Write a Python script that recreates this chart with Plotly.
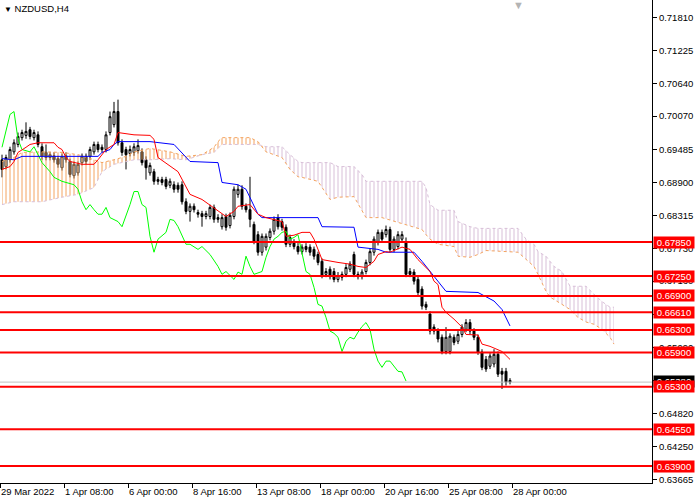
import numpy as np
import plotly.graph_objects as go

# NZDUSD H4, 29 Mar - 28 Apr 2022, one entry per H4 bar
opens = [0.6930, 0.6918, 0.6930, 0.6944, 0.6957, 0.6969, 0.6973, 0.6983, 0.6969, 0.6974,
         0.6953, 0.6943, 0.6934, 0.6937, 0.6932, 0.6916, 0.6937, 0.6927, 0.6902, 0.6907,
         0.6925, 0.6936, 0.6936, 0.6944, 0.6957, 0.6952, 0.6948, 0.6978, 0.6992, 0.7015,
         0.6960, 0.6948, 0.6941, 0.6943, 0.6946, 0.6944, 0.6930, 0.6907, 0.6909, 0.6895,
         0.6895, 0.6895, 0.6885, 0.6886, 0.6885, 0.6886, 0.6856, 0.6839, 0.6848, 0.6837,
         0.6835, 0.6830, 0.6830, 0.6846, 0.6828, 0.6812, 0.6830, 0.6814, 0.6830, 0.6869,
         0.6878, 0.6848, 0.6842, 0.6816, 0.6798, 0.6767, 0.6776, 0.6793, 0.6804, 0.6828,
         0.6821, 0.6811, 0.6781, 0.6784, 0.6777, 0.6768, 0.6777, 0.6776, 0.6772, 0.6763,
         0.6751, 0.6728, 0.6737, 0.6733, 0.6719, 0.6728, 0.6728, 0.6737, 0.6763, 0.6728,
         0.6724, 0.6733, 0.6749, 0.6767, 0.6784, 0.6802, 0.6798, 0.6807, 0.6772, 0.6777,
         0.6790, 0.6784, 0.6733, 0.6732, 0.6719, 0.6702, 0.6675, 0.6658, 0.6635, 0.6628,
         0.6617, 0.6592, 0.6592, 0.6617, 0.6610, 0.6622, 0.6631, 0.6643, 0.6628, 0.6617,
         0.6591, 0.6578, 0.6566, 0.6570, 0.6587, 0.6557, 0.6557, 0.6541]
highs = [0.6939, 0.6939, 0.6953, 0.6966, 0.6978, 0.6983, 0.6996, 0.6988, 0.6983, 0.6980,
         0.6959, 0.6957, 0.6944, 0.6943, 0.6937, 0.6941, 0.6943, 0.6932, 0.6927, 0.6927,
         0.6941, 0.6941, 0.6953, 0.6962, 0.6962, 0.6957, 0.6980, 0.7015, 0.7032, 0.7036,
         0.6966, 0.6953, 0.6955, 0.6959, 0.6966, 0.6950, 0.6936, 0.6925, 0.6914, 0.6900,
         0.6900, 0.6900, 0.6897, 0.6892, 0.6890, 0.6892, 0.6862, 0.6853, 0.6853, 0.6842,
         0.6840, 0.6840, 0.6851, 0.6851, 0.6834, 0.6834, 0.6835, 0.6837, 0.6883, 0.6886,
         0.6885, 0.6853, 0.6900, 0.6821, 0.6804, 0.6800, 0.6800, 0.6809, 0.6830, 0.6834,
         0.6826, 0.6816, 0.6798, 0.6790, 0.6783, 0.6781, 0.6783, 0.6781, 0.6777, 0.6768,
         0.6756, 0.6739, 0.6742, 0.6739, 0.6732, 0.6733, 0.6746, 0.6751, 0.6768, 0.6733,
         0.6737, 0.6754, 0.6774, 0.6795, 0.6807, 0.6807, 0.6814, 0.6812, 0.6795, 0.6804,
         0.6804, 0.6793, 0.6739, 0.6737, 0.6724, 0.6707, 0.6680, 0.6663, 0.6640, 0.6633,
         0.6622, 0.6635, 0.6624, 0.6622, 0.6628, 0.6640, 0.6649, 0.6649, 0.6633, 0.6622,
         0.6596, 0.6584, 0.6589, 0.6596, 0.6592, 0.6563, 0.6563, 0.6545]
lows = [0.6899, 0.6913, 0.6925, 0.6939, 0.6952, 0.6964, 0.6967, 0.6966, 0.6964, 0.6952,
        0.6930, 0.6929, 0.6929, 0.6925, 0.6916, 0.6911, 0.6925, 0.6899, 0.6897, 0.6902,
        0.6920, 0.6922, 0.6930, 0.6939, 0.6943, 0.6943, 0.6943, 0.6973, 0.6987, 0.6955,
        0.6937, 0.6913, 0.6936, 0.6937, 0.6941, 0.6920, 0.6895, 0.6902, 0.6886, 0.6886,
        0.6885, 0.6878, 0.6880, 0.6872, 0.6872, 0.6851, 0.6834, 0.6821, 0.6837, 0.6828,
        0.6812, 0.6825, 0.6825, 0.6819, 0.6819, 0.6807, 0.6805, 0.6809, 0.6825, 0.6863,
        0.6842, 0.6837, 0.6811, 0.6781, 0.6761, 0.6761, 0.6770, 0.6788, 0.6798, 0.6807,
        0.6805, 0.6776, 0.6776, 0.6772, 0.6763, 0.6763, 0.6767, 0.6761, 0.6754, 0.6744,
        0.6721, 0.6723, 0.6719, 0.6714, 0.6714, 0.6717, 0.6723, 0.6732, 0.6723, 0.6719,
        0.6719, 0.6728, 0.6744, 0.6761, 0.6779, 0.6784, 0.6793, 0.6767, 0.6767, 0.6772,
        0.6784, 0.6723, 0.6723, 0.6710, 0.6691, 0.6666, 0.6665, 0.6622, 0.6622, 0.6608,
        0.6587, 0.6587, 0.6587, 0.6603, 0.6605, 0.6617, 0.6626, 0.6622, 0.6612, 0.6586,
        0.6559, 0.6556, 0.6561, 0.6564, 0.6547, 0.6526, 0.6532, 0.6534]
closes = [0.6913, 0.6934, 0.6948, 0.6960, 0.6971, 0.6978, 0.6980, 0.6971, 0.6978, 0.6957,
          0.6936, 0.6934, 0.6939, 0.6930, 0.6922, 0.6936, 0.6930, 0.6904, 0.6922, 0.6922,
          0.6936, 0.6927, 0.6948, 0.6957, 0.6948, 0.6948, 0.6974, 0.7006, 0.7015, 0.6960,
          0.6943, 0.6939, 0.6948, 0.6953, 0.6955, 0.6925, 0.6916, 0.6920, 0.6892, 0.6892,
          0.6890, 0.6883, 0.6892, 0.6878, 0.6878, 0.6856, 0.6839, 0.6848, 0.6842, 0.6834,
          0.6830, 0.6835, 0.6846, 0.6825, 0.6825, 0.6828, 0.6811, 0.6832, 0.6878, 0.6878,
          0.6848, 0.6842, 0.6825, 0.6786, 0.6767, 0.6795, 0.6795, 0.6804, 0.6825, 0.6812,
          0.6811, 0.6781, 0.6793, 0.6777, 0.6768, 0.6776, 0.6772, 0.6767, 0.6760, 0.6749,
          0.6726, 0.6733, 0.6724, 0.6719, 0.6726, 0.6723, 0.6740, 0.6746, 0.6728, 0.6724,
          0.6732, 0.6749, 0.6768, 0.6790, 0.6802, 0.6790, 0.6807, 0.6772, 0.6790, 0.6798,
          0.6798, 0.6728, 0.6728, 0.6716, 0.6696, 0.6672, 0.6670, 0.6628, 0.6628, 0.6614,
          0.6592, 0.6617, 0.6619, 0.6608, 0.6622, 0.6635, 0.6643, 0.6628, 0.6617, 0.6591,
          0.6564, 0.6561, 0.6584, 0.6587, 0.6552, 0.6552, 0.6538, 0.6538]

# Ichimoku lines, read at selected bars
tenkan_idx = [0, 2, 3, 4, 6, 7, 9, 13, 14, 15, 16, 17, 20, 23, 24, 26, 28, 29, 33, 37,
              38, 39, 44, 45, 47, 50, 54, 56, 58, 59, 62, 64, 66, 70, 71, 73, 75, 77, 78, 79,
              80, 84, 87, 89, 91, 93, 94, 96, 97, 100, 102, 104, 106, 107, 108, 109, 110, 111, 113, 115,
              116, 119, 120, 122, 125, 127]
tenkan_val = [0.6913, 0.6918, 0.6927, 0.6943, 0.6952, 0.6957, 0.6960, 0.6960, 0.6952, 0.6948,
              0.6934, 0.6927, 0.6922, 0.6922, 0.6930, 0.6948, 0.6957, 0.6978, 0.6974, 0.6973,
              0.6966, 0.6934, 0.6909, 0.6895, 0.6869, 0.6860, 0.6839, 0.6830, 0.6839, 0.6848,
              0.6851, 0.6834, 0.6828, 0.6821, 0.6795, 0.6797, 0.6802, 0.6802, 0.6790, 0.6772,
              0.6754, 0.6749, 0.6746, 0.6742, 0.6740, 0.6751, 0.6763, 0.6768, 0.6767, 0.6776,
              0.6772, 0.6754, 0.6740, 0.6733, 0.6716, 0.6710, 0.6670, 0.6661, 0.6649, 0.6635,
              0.6622, 0.6621, 0.6605, 0.6601, 0.6592, 0.6578]

kijun_idx = [0, 3, 5, 24, 25, 27, 28, 29, 37, 43, 47, 54, 55, 59, 61, 64, 65, 79, 80, 88,
             89, 94, 96, 103, 105, 107, 109, 111, 119, 121, 123, 125, 127]
kijun_val = [0.6932, 0.6930, 0.6936, 0.6936, 0.6943, 0.6948, 0.6957, 0.6962, 0.6962, 0.6957,
             0.6927, 0.6925, 0.6890, 0.6886, 0.6878, 0.6834, 0.6828, 0.6828, 0.6812, 0.6811,
             0.6776, 0.6772, 0.6767, 0.6767, 0.6751, 0.6733, 0.6716, 0.6698, 0.6696, 0.6688,
             0.6681, 0.6666, 0.6637]

chikou_idx = [0, 2, 3, 4, 5, 7, 8, 9, 10, 12, 13, 15, 16, 18, 19, 20, 21, 22, 23, 24,
              25, 26, 27, 29, 30, 31, 32, 33, 34, 35, 36, 37, 38, 39, 41, 42, 43, 44, 45, 46,
              47, 49, 50, 52, 54, 55, 56, 58, 59, 60, 61, 62, 63, 65, 66, 67, 68, 69, 70, 71,
              72, 73, 74, 75, 76, 77, 78, 79, 80, 81, 82, 83, 84, 85, 86, 87, 88, 89, 90, 91,
              92, 93, 94, 95, 96, 97, 98, 99, 100, 101]
chikou_val = [0.6952, 0.7010, 0.7015, 0.6966, 0.6948, 0.6944, 0.6953, 0.6939, 0.6925, 0.6909,
              0.6899, 0.6892, 0.6890, 0.6886, 0.6878, 0.6856, 0.6842, 0.6851, 0.6842, 0.6834,
              0.6834, 0.6846, 0.6828, 0.6821, 0.6812, 0.6830, 0.6851, 0.6874, 0.6874, 0.6851,
              0.6846, 0.6795, 0.6767, 0.6790, 0.6802, 0.6825, 0.6823, 0.6812, 0.6795, 0.6781,
              0.6781, 0.6772, 0.6777, 0.6763, 0.6742, 0.6728, 0.6733, 0.6719, 0.6732, 0.6728,
              0.6760, 0.6742, 0.6728, 0.6733, 0.6758, 0.6777, 0.6790, 0.6795, 0.6802, 0.6804,
              0.6790, 0.6793, 0.6798, 0.6767, 0.6733, 0.6728, 0.6705, 0.6675, 0.6672, 0.6652,
              0.6628, 0.6624, 0.6617, 0.6592, 0.6610, 0.6617, 0.6614, 0.6626, 0.6636, 0.6643,
              0.6631, 0.6596, 0.6575, 0.6564, 0.6575, 0.6575, 0.6566, 0.6557, 0.6556, 0.6540]

cloud_idx = [0, 3, 5, 10, 15, 19, 23, 25, 28, 31, 33, 37, 42, 46, 50, 53, 54, 55, 62, 64,
             66, 70, 72, 74, 75, 79, 82, 84, 88, 90, 91, 95, 103, 105, 106, 107, 109, 113, 114, 117,
             119, 121, 129, 131, 133, 134, 136, 137, 138, 140, 142, 144, 146, 148, 150, 152, 153]
span_a = [0.6927, 0.6934, 0.6943, 0.6944, 0.6943, 0.6939, 0.6930, 0.6925, 0.6930, 0.6936,
          0.6944, 0.6950, 0.6944, 0.6936, 0.6939, 0.6952, 0.6962, 0.6969, 0.6969, 0.6962,
          0.6944, 0.6934, 0.6913, 0.6900, 0.6899, 0.6892, 0.6860, 0.6864, 0.6865, 0.6839,
          0.6828, 0.6828, 0.6812, 0.6807, 0.6798, 0.6790, 0.6781, 0.6777, 0.6760, 0.6758,
          0.6763, 0.6770, 0.6767, 0.6754, 0.6742, 0.6728, 0.6698, 0.6688, 0.6684, 0.6675,
          0.6666, 0.6652, 0.6644, 0.6640, 0.6631, 0.6617, 0.6605]
span_b = [0.6851, 0.6856, 0.6856, 0.6856, 0.6864, 0.6869, 0.6881, 0.6909, 0.6922, 0.6927,
          0.6930, 0.6930, 0.6932, 0.6930, 0.6939, 0.6943, 0.6950, 0.6957, 0.6957, 0.6957,
          0.6953, 0.6953, 0.6939, 0.6927, 0.6925, 0.6925, 0.6925, 0.6918, 0.6918, 0.6904,
          0.6892, 0.6892, 0.6892, 0.6892, 0.6881, 0.6851, 0.6841, 0.6841, 0.6821, 0.6812,
          0.6809, 0.6809, 0.6809, 0.6790, 0.6781, 0.6768, 0.6760, 0.6751, 0.6742, 0.6733,
          0.6707, 0.6707, 0.6707, 0.6693, 0.6680, 0.6670, 0.6670]

levels = [0.6785, 0.6725, 0.6690, 0.6661, 0.6630, 0.6590, 0.6530, 0.6455, 0.6390]

price_ticks = [0.71810, 0.71225, 0.70640, 0.70070, 0.69485, 0.68900, 0.68315, 0.67730,
               0.67160, 0.66575, 0.65990, 0.65405, 0.64820, 0.64250, 0.63665]
time_labels = ["29 Mar 2022", "1 Apr 08:00", "6 Apr 00:00", "8 Apr 16:00", "13 Apr 08:00",
               "18 Apr 00:00", "20 Apr 16:00", "25 Apr 08:00", "28 Apr 00:00"]

FONT = "Liberation Sans, Arial, sans-serif"
FS = 9.5
bars = list(range(len(closes)))

fig = go.Figure()

# kumo: split into runs where span A is above/below span B
a = np.array(span_a)
b = np.array(span_b)
ci = np.array(cloud_idx)
bull = a >= b
runs = []
start = 0
for k in range(1, len(ci) + 1):
    if k == len(ci) or bull[k] != bull[start]:
        runs.append((start, min(k, len(ci) - 1), bull[start]))
        start = k

for s, e, up in runs:
    sl = slice(s, e + 1)
    lower, upper = (b, a) if up else (a, b)
    col = '#F4A460' if up else '#D8BFD8'
    fig.add_trace(go.Scatter(x=ci[sl], y=lower[sl], mode='lines',
                             line=dict(width=0), hoverinfo='skip'))
    fig.add_trace(go.Scatter(x=ci[sl], y=upper[sl], mode='lines', line=dict(width=0),
                             fill='tonexty', fillcolor='rgba(0,0,0,0)',
                             fillpattern=dict(shape='|', fgcolor=col, bgcolor='rgba(0,0,0,0)',
                                              size=4, solidity=0.25, fgopacity=1),
                             hoverinfo='skip'))

fig.add_trace(go.Scatter(x=cloud_idx, y=span_a, mode='lines',
                         line=dict(color='#F4A460', width=1, dash='dot')))
fig.add_trace(go.Scatter(x=cloud_idx, y=span_b, mode='lines',
                         line=dict(color='#D8BFD8', width=1, dash='dot')))

fig.add_trace(go.Candlestick(
    x=bars, open=opens, high=highs, low=lows, close=closes,
    increasing=dict(line=dict(color='black', width=1), fillcolor='white'),
    decreasing=dict(line=dict(color='black', width=1), fillcolor='black'),
    whiskerwidth=0, hoverinfo='skip'))

fig.add_trace(go.Scatter(x=chikou_idx, y=chikou_val, mode='lines',
                         line=dict(color='#00FF00', width=1)))
fig.add_trace(go.Scatter(x=kijun_idx, y=kijun_val, mode='lines',
                         line=dict(color='#0000FF', width=1)))
fig.add_trace(go.Scatter(x=tenkan_idx, y=tenkan_val, mode='lines',
                         line=dict(color='#FF0000', width=1)))

shapes = []
annotations = []

# current price line + label (mostly hidden behind the 0.65300 level tag)
last = closes[-1]
shapes.append(dict(type='line', xref='paper', x0=0, x1=1, yref='y', y0=last, y1=last,
                   line=dict(color='#C0C0C0', width=1), layer='above'))
annotations.append(dict(xref='paper', x=1, xanchor='left', xshift=1, yref='y', y=last,
                        yshift=1, text=f"{last:.5f}", showarrow=False, bgcolor='black',
                        font=dict(color='white', size=FS, family=FONT),
                        width=40, height=11, borderpad=0))

for lv in levels:
    shapes.append(dict(type='line', xref='paper', x0=0, x1=1, yref='y', y0=lv, y1=lv,
                       line=dict(color='#FF0000', width=2), layer='above'))
    annotations.append(dict(xref='paper', x=1, xanchor='left', xshift=1, yref='y', y=lv,
                            text=f"{lv:.5f}", showarrow=False, bgcolor='#FF0000',
                            font=dict(color='white', size=FS, family=FONT),
                            width=40, height=11, borderpad=0))

annotations.append(dict(xref='paper', x=0, xanchor='left', xshift=2, yref='paper', y=1,
                        yanchor='top', yshift=-1, showarrow=False,
                        text="<span style='font-size:8px'>▼</span> NZDUSD,H4",
                        font=dict(color='#000000', size=FS, family=FONT)))
annotations.append(dict(xref='x', x=129, yref='paper', y=1, yanchor='top', yshift=3,
                        showarrow=False, text="▼",
                        font=dict(color='#B4B4B4', size=11, family=FONT)))

fig.update_layout(
    width=700, height=500,
    margin=dict(l=0, r=48, t=0, b=17, autoexpand=False),
    paper_bgcolor='white', plot_bgcolor='white',
    showlegend=False,
    shapes=shapes, annotations=annotations,
    font=dict(family=FONT, size=FS, color='black'),
)
fig.update_xaxes(range=[-0.5, 162.5], showgrid=False, zeroline=False,
                 rangeslider_visible=False, automargin=False,
                 showline=True, linecolor='black', linewidth=1,
                 ticks='outside', ticklen=4, tickcolor='black', tickangle=0,
                 tickvals=[16 * k - 0.5 for k in range(len(time_labels))],
                 ticktext=time_labels, ticklabelposition='outside right',
                 tickfont=dict(size=FS, family=FONT))
fig.update_yaxes(range=[0.63601, 0.72117], side='right', showgrid=False, zeroline=False,
                 automargin=False,
                 showline=True, linecolor='black', linewidth=1,
                 ticks='outside', ticklen=4, tickcolor='black',
                 tickvals=price_ticks, ticktext=[f"{p:.5f}" for p in price_ticks],
                 tickfont=dict(size=FS, family=FONT))

# page body has a default margin; drop it so the chart sits at the window corner
fig.write_html("out.html", config={'displayModeBar': False},
               post_script="document.body.style.margin='0px';")
